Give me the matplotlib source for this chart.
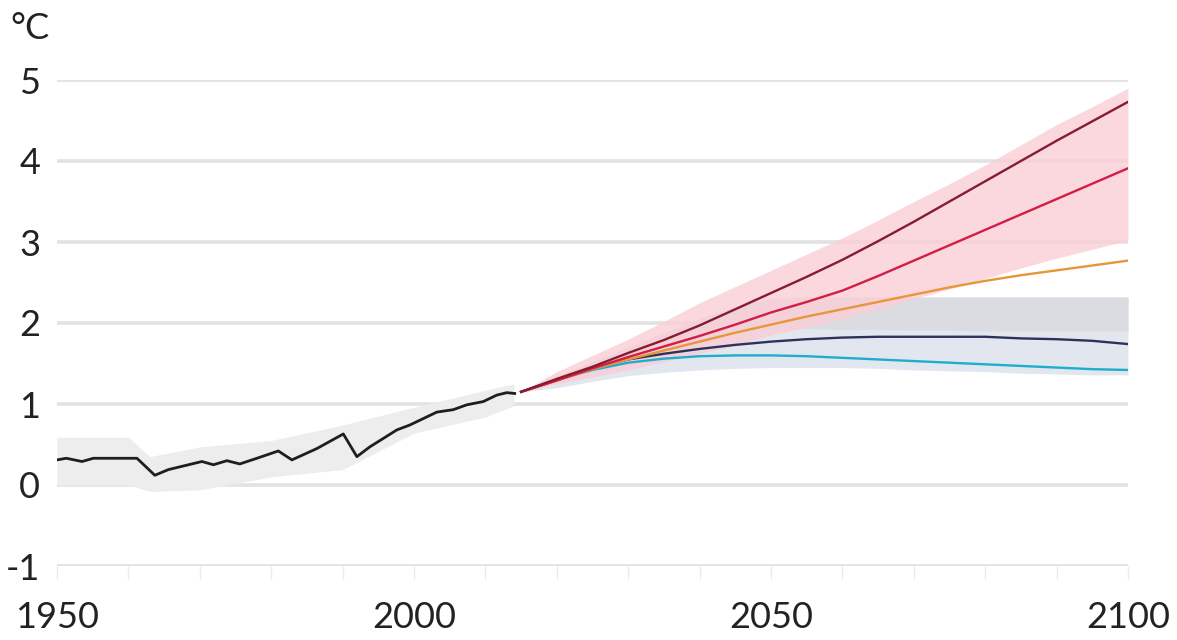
import numpy as np
import matplotlib.pyplot as plt

plt.rcParams['font.family'] = ['Lato', 'DejaVu Sans']

# observed warming, °C above pre-industrial
hist_years = [1950, 1951.3, 1953.5, 1955.1, 1961.2, 1963.7, 1965.6, 1970.3, 1971.9,
              1973.8, 1975.6, 1978, 1981, 1982.9, 1986.4, 1990.1, 1992, 1993.8,
              1997.6, 1999.4, 2001.3, 2003.2, 2005.5, 2007.4, 2009.7, 2011.6, 2013, 2014.1]
hist_temp = [0.31, 0.33, 0.29, 0.33, 0.33, 0.12, 0.19, 0.29, 0.25,
             0.30, 0.26, 0.33, 0.42, 0.31, 0.45, 0.63, 0.35, 0.47,
             0.68, 0.74, 0.82, 0.90, 0.93, 0.99, 1.03, 1.11, 1.14, 1.13]

hist_band_years = [1950, 1960, 1963, 1970, 1980, 1990, 2000, 2010, 2014]
hist_band_low = [0.0, 0.0, -0.08, -0.06, 0.10, 0.19, 0.64, 0.84, 0.98]
hist_band_high = [0.59, 0.59, 0.35, 0.47, 0.55, 0.74, 0.96, 1.17, 1.25]

# scenario projections
proj_years = [2015, 2020, 2025, 2030, 2035, 2040, 2045, 2050, 2055, 2060,
              2065, 2070, 2075, 2080, 2085, 2090, 2095, 2100]
very_high = [1.15, 1.31, 1.46, 1.63, 1.79, 1.97, 2.17, 2.37, 2.57, 2.78,
             3.01, 3.25, 3.50, 3.75, 4.00, 4.25, 4.49, 4.73]
high = [1.15, 1.29, 1.44, 1.58, 1.71, 1.84, 1.98, 2.13, 2.26, 2.40,
        2.58, 2.77, 2.96, 3.15, 3.34, 3.53, 3.72, 3.91]
intermediate = [1.15, 1.29, 1.43, 1.55, 1.66, 1.77, 1.88, 1.98, 2.08, 2.17,
                2.26, 2.35, 2.44, 2.52, 2.59, 2.65, 2.71, 2.77]
low = [1.15, 1.30, 1.44, 1.55, 1.62, 1.68, 1.73, 1.77, 1.80, 1.82,
       1.83, 1.83, 1.83, 1.83, 1.81, 1.80, 1.78, 1.74]
very_low = [1.15, 1.30, 1.42, 1.51, 1.56, 1.59, 1.60, 1.60, 1.59, 1.57,
            1.55, 1.53, 1.51, 1.49, 1.47, 1.45, 1.43, 1.42]

high_band_low = [1.15, 1.25, 1.33, 1.42, 1.52, 1.62, 1.73, 1.85, 1.95, 2.05,
                 2.17, 2.30, 2.42, 2.55, 2.68, 2.80, 2.91, 3.02]
high_band_high = [1.15, 1.40, 1.60, 1.80, 2.02, 2.25, 2.45, 2.65, 2.85, 3.05,
                  3.27, 3.50, 3.72, 3.95, 4.20, 4.45, 4.67, 4.90]
low_band_low = [1.15, 1.20, 1.28, 1.35, 1.39, 1.42, 1.44, 1.45, 1.45, 1.45,
                1.44, 1.42, 1.41, 1.40, 1.38, 1.37, 1.36, 1.36]
low_band_mid = [1.15, 1.32, 1.47, 1.60, 1.70, 1.80, 1.87, 1.93, 1.93, 1.92,
                1.92, 1.91, 1.91, 1.90, 1.90, 1.90, 1.90, 1.90]
low_band_high = [1.15, 1.35, 1.52, 1.70, 1.88, 2.05, 2.20, 2.30, 2.32, 2.32,
                 2.32, 2.32, 2.32, 2.32, 2.32, 2.32, 2.32, 2.32]

y_ticks = [-1, 0, 1, 2, 3, 4, 5]
x_ticks = [1950, 1960, 1970, 1980, 1990, 2000, 2010, 2020, 2030, 2040,
           2050, 2060, 2070, 2080, 2090, 2100]
x_labels = {1950: '1950', 2000: '2000', 2050: '2050', 2100: '2100'}

fig = plt.figure(figsize=(11.77, 6.40), dpi=100)
ax = fig.add_axes([57 / 1177, 74 / 640, 1071 / 1177, 486 / 640])

for yv in y_ticks:
    ax.axhline(yv, color='#e2e2e2', lw=2.6, zorder=0)

ax.fill_between(hist_band_years, hist_band_low, hist_band_high, color='#ededed', lw=0, zorder=1)
ax.fill_between(proj_years, low_band_low, low_band_high, color='#e2e7ef', lw=0, zorder=1)
ax.fill_between(proj_years, low_band_mid, low_band_high, color='#dadce1', lw=0, zorder=1)
ax.fill_between(proj_years, high_band_low, high_band_high, color='#fbcdd6', alpha=0.8, lw=0, zorder=2)

ax.plot(hist_years, hist_temp, color='#1e1e1e', lw=2.0, zorder=5)
ax.plot(proj_years, very_low, color='#1eaecb', lw=1.7, zorder=5)
ax.plot(proj_years, low, color='#2b3458', lw=1.7, zorder=5)
ax.plot(proj_years, intermediate, color='#e8963a', lw=1.7, zorder=5)
ax.plot(proj_years, high, color='#d21e45', lw=1.7, zorder=6)
ax.plot(proj_years, very_high, color='#861c30', lw=1.7, zorder=7)

ax.set_yticks(y_ticks)
ax.set_yticklabels([str(v) for v in y_ticks])
ax.set_xticks(x_ticks)
ax.set_xticklabels([x_labels.get(t, '') for t in x_ticks])
ax.set_xlim(1950, 2100)
ax.set_ylim(-1, 5)

for s in ax.spines.values():
    s.set_visible(False)
ax.tick_params(axis='y', length=0, pad=12, labelsize=26, labelcolor='#222222')
ax.tick_params(axis='x', length=9, width=1, color='#ebebeb', pad=16,
               labelsize=26, labelcolor='#222222')

fig.text(10 / 1177, 1 - 12 / 640, '°C', fontsize=26, color='#222222', va='top', ha='left')

fig.savefig('out.png', dpi=100, facecolor='white')
